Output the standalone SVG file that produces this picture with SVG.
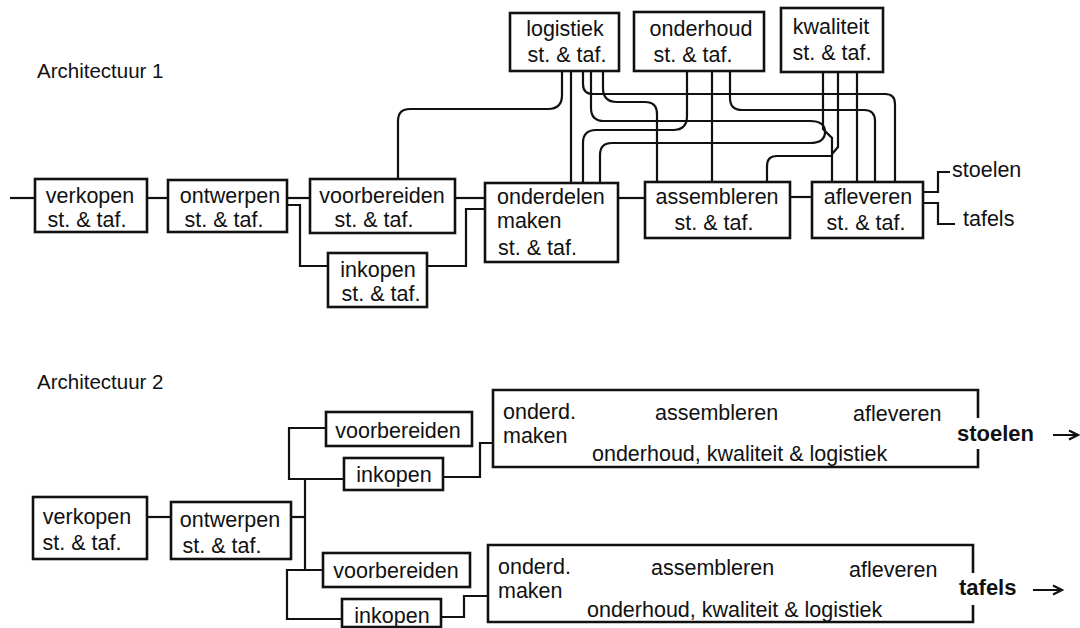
<svg xmlns="http://www.w3.org/2000/svg" width="1080" height="628" viewBox="0 0 1080 628">
<style>
  .bx{fill:#fff;stroke:#111;stroke-width:2.6}
  .ob{fill:none;stroke:#111;stroke-width:2.6}
  .cn{fill:none;stroke:#111;stroke-width:2.2}
  text{font-family:"Liberation Sans",Arial,Helvetica,sans-serif;font-size:21.5px;fill:#111}
  .t{font-size:20.5px}
  .m{text-anchor:middle}
  .b{font-weight:bold;font-size:22px}
</style>
<rect width="1080" height="628" fill="#fff"/>
<text class="t" x="37" y="78">Architectuur 1</text>
<text class="t" x="37" y="389">Architectuur 2</text>

<g id="connectors">
  <!-- Architecture 1 -->
  <path class="cn" d="M10,198 H35"/>
  <path class="cn" d="M147,198 H168"/>
  <path class="cn" d="M287,198 H310"/>
  <path class="cn" d="M287,205 H300 V266 H328"/>
  <path class="cn" d="M455,198 H485"/>
  <path class="cn" d="M427,266 H466 V209 H485"/>
  <path class="cn" d="M618,198 H645"/>
  <path class="cn" d="M790,197 H812"/>
  <path class="cn" d="M923,192 H938 V172 H950"/>
  <path class="cn" d="M923,203 H938 V224 H955"/>
  <!-- logistiek -->
  <path class="cn" d="M562,71 V95 Q562,109 548,109 H410 Q398,109 398,121 V179"/>
  <path class="cn" d="M571,71 V183"/>
  <path class="cn" d="M583,71 V84 Q583,94 593,94 H885 Q895,94 895,104 V182"/>
  <path class="cn" d="M591,71 V108 Q591,121 604,121 H810 Q825,121 825,132 Q825,143 810,143 H612 Q600,143 600,155 V183"/>
  <path class="cn" d="M603,71 V88 Q603,102 617,102 H645 Q657,102 657,114 V182"/>
  <!-- onderhoud -->
  <path class="cn" d="M687,71 V116 Q687,130 673,130 H596 Q583,130 583,143 V183"/>
  <path class="cn" d="M712,71 V182"/>
  <path class="cn" d="M730,71 V98 Q730,110 742,110 H864 Q875,110 875,121 V182"/>
  <!-- kwaliteit -->
  <path class="cn" d="M823,72 V129 L832,138 V182"/>
  <path class="cn" d="M838,72 V147 L832,154"/>
  <path class="cn" d="M857,72 V182"/>
  <path class="cn" d="M832,156 H777 Q767,156 767,166 V182"/>
  <!-- Architecture 2 -->
  <path class="cn" d="M147,517 H171"/>
  <path class="cn" d="M291,517 H305"/>
  <path class="cn" d="M305,479 V570"/>
  <path class="cn" d="M344,479 H289 V428 H326"/>
  <path class="cn" d="M323,570 H287 V619 H342"/>
  <path class="cn" d="M443,477 H480 V443 H493"/>
  <path class="cn" d="M441,617 H464 V596 H488"/>
  <path class="cn" d="M1053,435 H1077 M1069,430.5 L1078,435 L1069,439.5"/>
  <path class="cn" d="M1033,590 H1061 M1053,585.5 L1062,590 L1053,594.5"/>
</g>

<!-- Architecture 1 nodes -->
<g id="a1-verkopen">
  <rect class="bx" x="35" y="179" width="112" height="53"/>
  <text class="m" x="90" y="203">verkopen</text>
  <text class="m" x="87" y="227">st. &amp; taf.</text>
</g>
<g id="a1-ontwerpen">
  <rect class="bx" x="168" y="180" width="119" height="52"/>
  <text class="m" x="230" y="203">ontwerpen</text>
  <text class="m" x="224" y="227">st. &amp; taf.</text>
</g>
<g id="a1-voorbereiden">
  <rect class="bx" x="310" y="179" width="145" height="54"/>
  <text class="m" x="382" y="203">voorbereiden</text>
  <text class="m" x="374" y="227">st. &amp; taf.</text>
</g>
<g id="a1-inkopen">
  <rect class="bx" x="328" y="253" width="99" height="54"/>
  <text class="m" x="378" y="277">inkopen</text>
  <text class="m" x="381" y="301">st. &amp; taf.</text>
</g>
<g id="a1-onderdelen">
  <rect class="bx" x="485" y="183" width="133" height="79"/>
  <text x="497" y="204">onderdelen</text>
  <text x="497" y="228">maken</text>
  <text x="498" y="255">st. &amp; taf.</text>
</g>
<g id="a1-assembleren">
  <rect class="bx" x="645" y="182" width="145" height="56"/>
  <text class="m" x="717" y="204">assembleren</text>
  <text class="m" x="714" y="230">st. &amp; taf.</text>
</g>
<g id="a1-afleveren">
  <rect class="bx" x="812" y="182" width="111" height="56"/>
  <text class="m" x="868" y="204">afleveren</text>
  <text class="m" x="866" y="230">st. &amp; taf.</text>
</g>
<g id="a1-logistiek">
  <rect class="bx" x="510" y="13" width="109" height="58"/>
  <text class="m" x="565" y="36">logistiek</text>
  <text class="m" x="567" y="62">st. &amp; taf.</text>
</g>
<g id="a1-onderhoud">
  <rect class="bx" x="634" y="12" width="130" height="59"/>
  <text class="m" x="701" y="36">onderhoud</text>
  <text class="m" x="693" y="62">st. &amp; taf.</text>
</g>
<g id="a1-kwaliteit">
  <rect class="bx" x="781" y="8" width="102" height="64"/>
  <text class="m" x="831" y="34">kwaliteit</text>
  <text class="m" x="832" y="60">st. &amp; taf.</text>
</g>
<g id="a1-stoelen"><text x="952" y="177">stoelen</text></g>
<g id="a1-tafels"><text x="963" y="226">tafels</text></g>

<!-- Architecture 2 nodes -->
<g id="a2-verkopen">
  <rect class="bx" x="33" y="497" width="114" height="62"/>
  <text class="m" x="87" y="524">verkopen</text>
  <text class="m" x="82" y="550">st. &amp; taf.</text>
</g>
<g id="a2-ontwerpen">
  <rect class="bx" x="171" y="502" width="120" height="57"/>
  <text class="m" x="230" y="527">ontwerpen</text>
  <text class="m" x="222" y="553">st. &amp; taf.</text>
</g>
<g id="a2-voorbereiden-stoelen">
  <rect class="bx" x="326" y="412" width="146" height="34"/>
  <text class="m" x="398" y="438">voorbereiden</text>
</g>
<g id="a2-inkopen-stoelen">
  <rect class="bx" x="344" y="458" width="99" height="32"/>
  <text class="m" x="394" y="482">inkopen</text>
</g>
<g id="a2-voorbereiden-tafels">
  <rect class="bx" x="323" y="553" width="147" height="34"/>
  <text class="m" x="396" y="578">voorbereiden</text>
</g>
<g id="a2-inkopen-tafels">
  <rect class="bx" x="342" y="599" width="99" height="28"/>
  <text class="m" x="392" y="623">inkopen</text>
</g>
<g id="a2-stoelen">
  <path class="ob" d="M978,418 V390 H493 V467 H978 V449"/>
  <text x="503" y="419">onderd.</text>
  <text x="503" y="443">maken</text>
  <text x="655" y="420">assembleren</text>
  <text x="853" y="421">afleveren</text>
  <text x="592" y="461">onderhoud, kwaliteit &amp; logistiek</text>
  <text class="b" x="957" y="441">stoelen</text>
</g>
<g id="a2-tafels">
  <path class="ob" d="M973,573 V545 H488 V622 H973 V605"/>
  <text x="498" y="574">onderd.</text>
  <text x="498" y="598">maken</text>
  <text x="651" y="575">assembleren</text>
  <text x="849" y="577">afleveren</text>
  <text x="587" y="617">onderhoud, kwaliteit &amp; logistiek</text>
  <text class="b" x="959" y="595">tafels</text>
</g>
</svg>
